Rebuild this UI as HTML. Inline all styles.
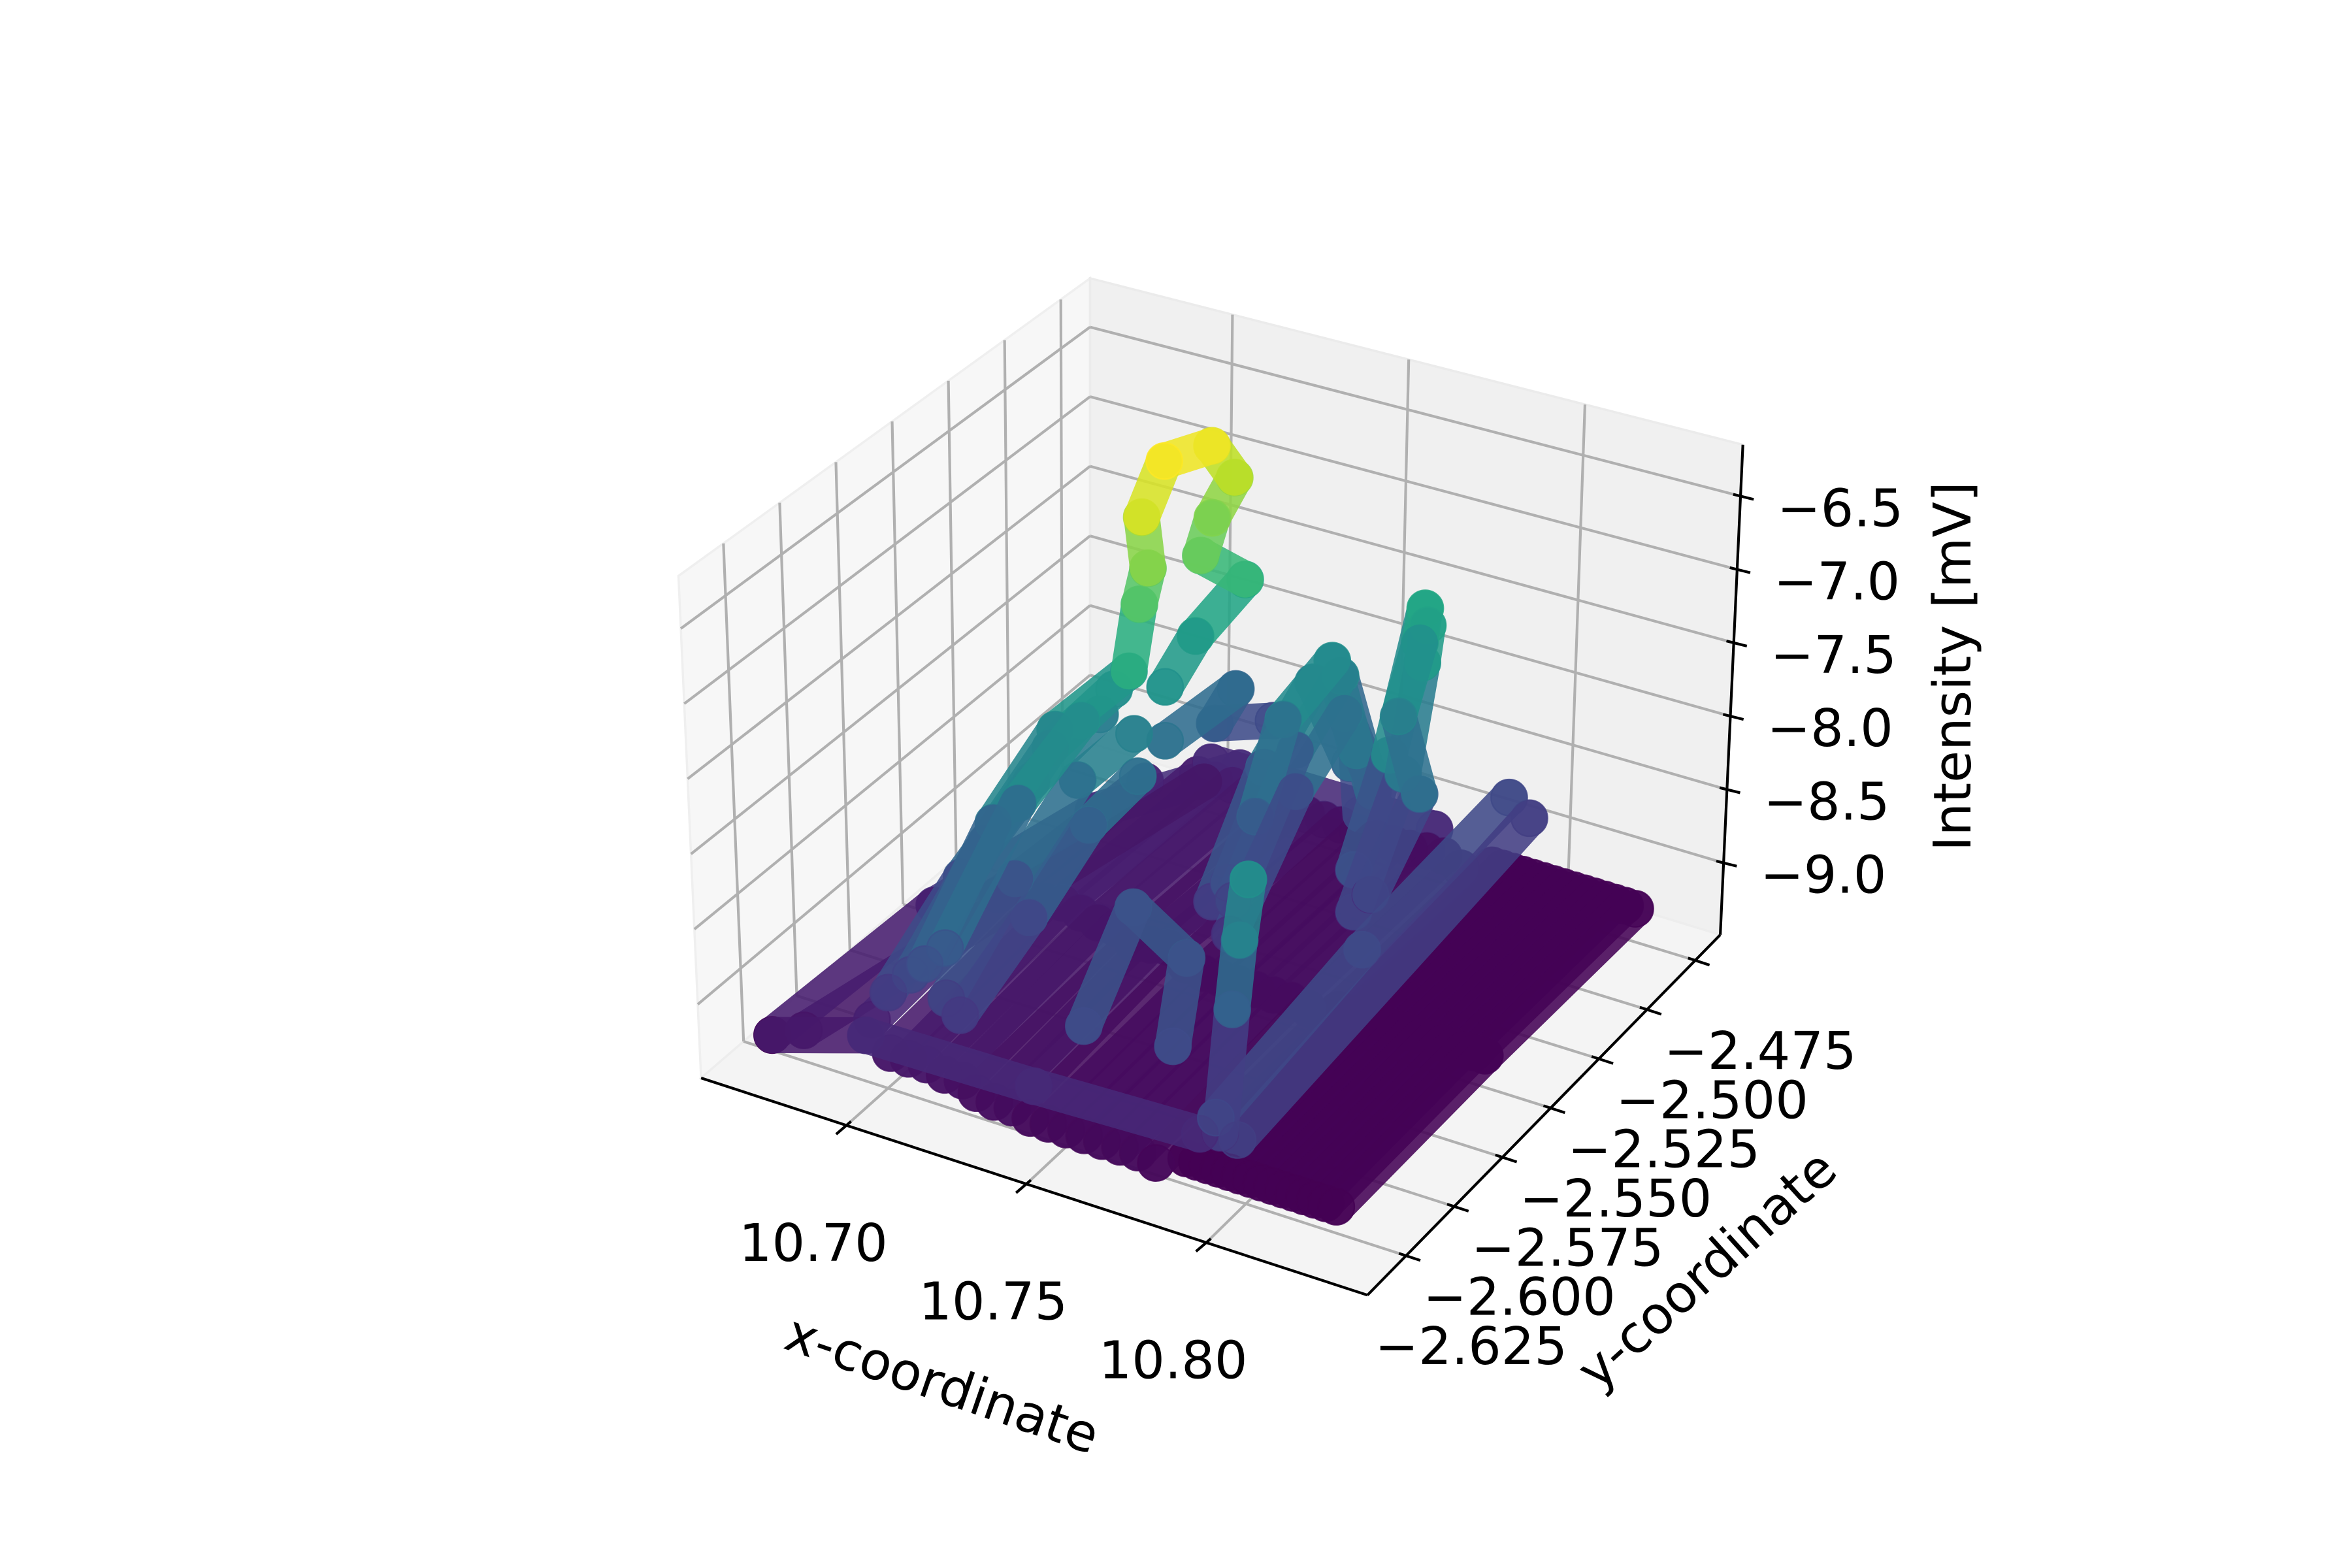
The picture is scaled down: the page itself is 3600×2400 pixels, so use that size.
<!DOCTYPE html>
<html><head><meta charset="utf-8"><style>
html,body{margin:0;padding:0;background:#fff;}
svg{display:block;}
text{font-family:"DejaVu Sans","Liberation Sans",sans-serif;fill:#000;}
</style></head><body>
<svg id="chart" xmlns="http://www.w3.org/2000/svg" width="3600" height="2400" viewBox="0 0 1560 1040">
<rect x="0" y="0" width="1560" height="1040" fill="#ffffff"/>
<g id="panes"></g>
<g id="grid"></g>
<g id="marks"></g>
<g id="axes"></g>
<text x="625" y="918" font-size="34.5" text-anchor="middle" dominant-baseline="central" transform="rotate(19 625 918)">x-coordinate</text>
<text x="1132" y="842" font-size="34.5" text-anchor="middle" dominant-baseline="central" transform="rotate(-42 1132 842)">y-coordinate</text>
<text x="1295" y="442" font-size="34.5" text-anchor="middle" dominant-baseline="central" transform="rotate(-90 1295 442)">Intensity [mV]</text>
</svg>
<script>
// axis limits
var xLim = [10.6596, 10.8448];
var yLim = [-2.645, -2.462];
var zLim = [-9.49, -6.15];
// tick values
var xTicks = [10.70, 10.75, 10.80];
var yTicks = [-2.625, -2.600, -2.575, -2.550, -2.525, -2.500, -2.475];
var zTicks = [-9.0, -8.5, -8.0, -7.5, -7.0, -6.5];
// scatter data: track id, x, y, z
var trackIds = [
 0,0,0, 1,1,1, 2,2,2, 3,3,3, 4,4,4, 5,5,5, 6,6,6, 7,7,7, 8,8,8, 9,9,9, 10,10,10, 11,11,11, 12,12,12, 13,13,13, 14,14,14,
 15,15,15, 16,16,16, 17,17,17, 18,18,18, 19,19,19, 20,20,20, 21,21,21, 22,22,22, 23,23,23, 24,24,24, 25,25,25,
 26,26,26,
 27,27,27,27, 28,28, 29,29,29,29, 30,30,
 31,31,31,31,31,31,31,31,31,31,31,31,31,31,31,
 32,32,32,32, 33,33,33,33, 34,34,34,
 35,35,35,35,
 36,36,36,36,36,36, 37,37,37,37, 38,38,38,38, 39,39,39,39,
 40,40,40,40,40,40,40, 41,41,41,41,
 42,42,42,42, 43,43,43,43, 44,44,44, 45,45,
 46,46,46, 47,47,47, 48,48,48, 49,49,49, 50,50,50,
 51,51,51,51, 52,52,52,52];
var xs = [
 10.780,10.780,10.780, 10.783,10.783,10.783, 10.786,10.786,10.786, 10.789,10.789,10.789, 10.792,10.792,10.792,
 10.795,10.795,10.795, 10.798,10.798,10.798, 10.801,10.801,10.801, 10.804,10.804,10.804, 10.807,10.807,10.807,
 10.810,10.810,10.810, 10.813,10.813,10.813, 10.816,10.816,10.816, 10.819,10.819,10.819, 10.822,10.822,10.822,
 10.726,10.726,10.726, 10.731,10.731,10.731, 10.736,10.736,10.736, 10.741,10.741,10.741, 10.746,10.746,10.746,
 10.751,10.751,10.751, 10.756,10.756,10.756, 10.761,10.761,10.761, 10.766,10.766,10.766, 10.771,10.771,10.771, 10.776,10.776,10.776,
 10.693,10.693,10.693,
 10.669,10.684,10.698,10.712, 10.678,10.704, 10.669,10.699,10.745,10.790, 10.706,10.771,
 10.707,10.709,10.708,10.715,10.718,10.718,10.7175,10.722,10.722,10.723,10.724,10.722,10.722,10.723,10.721,
 10.714,10.716,10.716,10.720, 10.703,10.705,10.706,10.712, 10.711,10.713,10.713,
 10.721,10.716,10.713,10.718,
 10.748,10.749,10.748,10.750,10.755,10.753, 10.753,10.754,10.756,10.759, 10.745,10.745,10.747,10.752, 10.751,10.751,10.753,10.757,
 10.774,10.779,10.772,10.769,10.768,10.769,10.768, 10.771,10.773,10.771,10.770,
 10.789,10.789,10.786,10.785, 10.754,10.742,10.765,10.777, 10.800,10.795,10.790, 10.806,10.796,
 10.701,10.701,10.701, 10.706,10.706,10.706, 10.711,10.711,10.711, 10.716,10.716,10.716, 10.721,10.721,10.721,
 10.699,10.701,10.703,10.708, 10.719,10.721,10.722,10.724];
var ys = [
 -2.619,-2.543,-2.466, -2.619,-2.543,-2.466, -2.619,-2.543,-2.466, -2.619,-2.543,-2.466, -2.619,-2.543,-2.466,
 -2.619,-2.543,-2.466, -2.619,-2.543,-2.466, -2.619,-2.543,-2.466, -2.619,-2.543,-2.466, -2.619,-2.543,-2.466,
 -2.619,-2.543,-2.466, -2.619,-2.543,-2.466, -2.619,-2.543,-2.466, -2.619,-2.543,-2.466, -2.619,-2.543,-2.466,
 -2.627,-2.551,-2.475, -2.627,-2.551,-2.475, -2.627,-2.551,-2.475, -2.627,-2.551,-2.475, -2.627,-2.551,-2.475,
 -2.627,-2.551,-2.475, -2.627,-2.551,-2.475, -2.627,-2.551,-2.475, -2.627,-2.551,-2.475, -2.627,-2.551,-2.475, -2.627,-2.551,-2.475,
 -2.620,-2.560,-2.490,
 -2.627,-2.575,-2.523,-2.476, -2.627,-2.480, -2.627,-2.633,-2.632,-2.630, -2.480,-2.480,
 -2.618,-2.588,-2.557,-2.534,-2.534,-2.530,-2.532,-2.529,-2.507,-2.498,-2.510,-2.512,-2.491,-2.516,-2.527,
 -2.620,-2.590,-2.560,-2.540, -2.618,-2.585,-2.556,-2.536, -2.615,-2.583,-2.553,
 -2.527,-2.485,-2.490,-2.470,
 -2.542,-2.531,-2.516,-2.496,-2.492,-2.486, -2.550,-2.520,-2.500,-2.490, -2.545,-2.520,-2.500,-2.490, -2.545,-2.515,-2.497,-2.487,
 -2.517,-2.502,-2.501,-2.486,-2.482,-2.500,-2.515, -2.520,-2.500,-2.488,-2.484,
 -2.618,-2.612,-2.603,-2.597, -2.623,-2.578,-2.592,-2.620, -2.640,-2.558,-2.476, -2.640,-2.476,
 -2.625,-2.551,-2.478, -2.625,-2.551,-2.478, -2.625,-2.551,-2.478, -2.625,-2.551,-2.478, -2.625,-2.551,-2.478,
 -2.622,-2.590,-2.560,-2.536, -2.622,-2.592,-2.565,-2.545];
var zs = [
 -9.42,-9.40,-9.42, -9.42,-9.40,-9.42, -9.42,-9.40,-9.42, -9.42,-9.40,-9.42, -9.42,-9.40,-9.42,
 -9.42,-9.40,-9.42, -9.42,-9.40,-9.42, -9.42,-9.40,-9.42, -9.42,-9.40,-9.42, -9.42,-9.40,-9.42,
 -9.42,-9.40,-9.42, -9.42,-9.40,-9.42, -9.42,-9.40,-9.42, -9.42,-9.40,-9.42, -9.42,-9.40,-9.42,
 -9.30,-9.25,-9.30, -9.32,-9.22,-9.30, -9.32,-9.20,-9.30, -9.35,-9.28,-9.30, -9.35,-9.30,-9.32,
 -9.35,-9.30,-9.32, -9.35,-9.30,-9.32, -9.35,-9.30,-9.32, -9.35,-9.30,-9.30, -9.35,-9.30,-9.30, -9.38,-9.32,-9.35,
 -9.15,-9.05,-9.15,
 -9.35,-9.00,-8.90,-9.10, -9.25,-9.20, -9.35,-9.05,-9.05,-9.05, -9.05,-9.05,
 -8.70,-8.10,-7.85,-7.68,-7.20,-7.00,-6.63,-6.25,-6.40,-6.72,-6.85,-7.10,-7.52,-7.60,-7.83,
 -8.85,-8.40,-8.10,-8.00, -8.80,-8.30,-8.00,-7.80, -8.60,-8.00,-7.80,
 -8.20,-8.40,-8.60,-8.80,
 -8.79,-8.47,-8.00,-7.83,-8.47,-9.00, -9.00,-8.40,-8.10,-8.70, -8.90,-8.30,-7.95,-8.60, -8.85,-8.20,-7.90,-8.80,
 -9.00,-8.47,-8.00,-7.70,-7.52,-8.30,-8.90, -9.10,-8.40,-7.80,-7.60,
 -9.20,-8.47,-8.15,-7.83, -8.70,-8.55,-8.55,-8.70, -8.75,-8.70,-8.75, -8.85,-8.85,
 -9.25,-9.15,-9.20, -9.25,-9.12,-9.20, -9.25,-9.15,-9.20, -9.28,-9.18,-9.22, -9.28,-9.18,-9.22,
 -8.90,-8.50,-8.20,-8.00, -8.90,-8.60,-8.30,-8.20];

var NS = "http://www.w3.org/2000/svg";
var C = {c000:[465,715],c100:[907,859],c010:[723,493],c110:[1141,620],
         c001:[450,382],c101:[910,509],c011:[723,184.6],c111:[1156,295]};
function lerp(a,b,t){return [a[0]+(b[0]-a[0])*t, a[1]+(b[1]-a[1])*t];}
function norm3(x,y,z){return [(x-xLim[0])/(xLim[1]-xLim[0]),(y-yLim[0])/(yLim[1]-yLim[0]),(z-zLim[0])/(zLim[1]-zLim[0])];}
function proj(x,y,z){
  var n=norm3(x,y,z),u=n[0],v=n[1],w=n[2];
  var b=lerp(lerp(C.c000,C.c100,u),lerp(C.c010,C.c110,u),v);
  var t=lerp(lerp(C.c001,C.c101,u),lerp(C.c011,C.c111,u),v);
  return lerp(b,t,w);
}
function depth(x,y,z){var n=norm3(x,y,z);return n[0]-n[1]+0.6*n[2];}
var vir=[[68,1,84],[72,36,117],[65,68,135],[53,95,141],[42,120,142],[33,145,140],[34,168,132],[68,191,112],[122,209,81],[189,223,38],[253,231,37]];
function viridis(t){t=Math.max(0,Math.min(1,t));var s=t*10,i=Math.min(9,Math.floor(s)),f=s-i;
  var a=vir[i],b=vir[i+1];return "rgb("+[0,1,2].map(function(k){return Math.round(a[k]+(b[k]-a[k])*f);}).join(",")+")";}
function el(tag,attrs,parent){var e=document.createElementNS(NS,tag);for(var k in attrs)e.setAttribute(k,attrs[k]);parent.appendChild(e);return e;}
function pts(a){return a.map(function(p){return p[0].toFixed(1)+","+p[1].toFixed(1);}).join(" ");}

// panes
var panes=document.getElementById("panes");
var p1=el("polygon",{points:pts([C.c000,C.c010,C.c011,C.c001]),fill:"#f7f7f7",stroke:"#efefef","stroke-width":1.5},panes);


var p2=el("polygon",{points:pts([C.c010,C.c110,C.c111,C.c011]),fill:"#f0f0f0",stroke:"#ebebeb","stroke-width":1.5},panes);


var p3=el("polygon",{points:pts([C.c000,C.c100,C.c110,C.c010]),fill:"#f4f4f4",stroke:"#ededed","stroke-width":1.5},panes);



// gridlines
var grid=document.getElementById("grid");
function gline(a,b,name){var l=el("line",{x1:a[0],y1:a[1],x2:b[0],y2:b[1],stroke:"#b0b0b0","stroke-width":1.8},grid);
  
  }
xTicks.forEach(function(t){
  gline(proj(t,yLim[1],zLim[0]),proj(t,yLim[1],zLim[1]),'x-gridline-back');
  gline(proj(t,yLim[0],zLim[0]),proj(t,yLim[1],zLim[0]),'x-gridline-floor');
});
yTicks.forEach(function(t){
  gline(proj(xLim[0],t,zLim[0]),proj(xLim[0],t,zLim[1]),'y-gridline-left');
  gline(proj(xLim[0],t,zLim[0]),proj(xLim[1],t,zLim[0]),'y-gridline-floor');
});
zTicks.forEach(function(t){
  gline(proj(xLim[0],yLim[0],t),proj(xLim[0],yLim[1],t),'z-gridline-left');
  gline(proj(xLim[0],yLim[1],t),proj(xLim[1],yLim[1],t),'z-gridline-back');
});

// scatter marks (segments + points), depth sorted
var marks=document.getElementById("marks");
var zmin=Math.min.apply(null,zs), zmax=Math.max.apply(null,zs);
var items=[];
for(var i=0;i<xs.length;i++){
  items.push({kind:"pt",i:i,d:depth(xs[i],ys[i],zs[i])});
  if(i+1<xs.length && trackIds[i+1]===trackIds[i]){
    items.push({kind:"seg",i:i,d:depth((xs[i]+xs[i+1])/2,(ys[i]+ys[i+1])/2,(zs[i]+zs[i+1])/2)-0.001});
  }
}
items.sort(function(a,b){return a.d-b.d;});
items.forEach(function(it){
  var i=it.i;
  if(it.kind==="seg"){
    var a=proj(xs[i],ys[i],zs[i]),b=proj(xs[i+1],ys[i+1],zs[i+1]);
    var s=el("line",{x1:a[0],y1:a[1],x2:b[0],y2:b[1],stroke:viridis(((zs[i]+zs[i+1])/2-zmin)/(zmax-zmin)),"stroke-width":24,"stroke-linecap":"round","stroke-opacity":0.88},marks);
    
    
  } else {
    var p=proj(xs[i],ys[i],zs[i]);var col=viridis((zs[i]-zmin)/(zmax-zmin));
    var c=el("circle",{cx:p[0],cy:p[1],r:12,fill:col,"fill-opacity":0.7,stroke:col,"stroke-opacity":0.85,"stroke-width":1},marks);
    
    
  }
});

// axes lines, ticks, labels
var axes=document.getElementById("axes");
function aline(a,b,name,w){var l=el("line",{x1:a[0],y1:a[1],x2:b[0],y2:b[1],stroke:"#000","stroke-width":w||1.8},axes);
  
  }
function label(x,y,txt,anchor,name){var t=el("text",{x:x,y:y,"font-size":34.5,"text-anchor":anchor,"dominant-baseline":"central"},axes);
  t.textContent=txt;
  
  }
function fmt(v,d){var s=Math.abs(v).toFixed(d);return (v<0?"\u2212":"")+s;}
aline(C.c000,C.c100,'x-axis-line');
aline(C.c100,C.c110,'y-axis-line');
aline(C.c110,C.c111,'z-axis-line');
xTicks.forEach(function(t){var p=proj(t,yLim[0],zLim[0]);var d=[0.758,-0.652];
  aline([p[0]+4*d[0],p[1]+4*d[1]],[p[0]-9*d[0],p[1]-9*d[1]],'x-tick');
  label(p[0]-22,p[1]+78,t.toFixed(2),"middle",'x-tick-label');});
yTicks.forEach(function(t){var p=proj(xLim[1],t,zLim[0]);var d=[0.95,0.31];
  aline([p[0]-5*d[0],p[1]-5*d[1]],[p[0]+10*d[0],p[1]+10*d[1]],'y-tick');
  label(p[0]+107,p[1]+60,fmt(t,3),"end",'y-tick-label');});
zTicks.forEach(function(t){var p=proj(xLim[1],yLim[1],t);var d=[0.97,0.24];
  aline([p[0]-5*d[0],p[1]-5*d[1]],[p[0]+9*d[0],p[1]+9*d[1]],'z-tick');
  label(p[0]+108,p[1]+8,fmt(t,1),"end",'z-tick-label');});
</script>
</body></html>
